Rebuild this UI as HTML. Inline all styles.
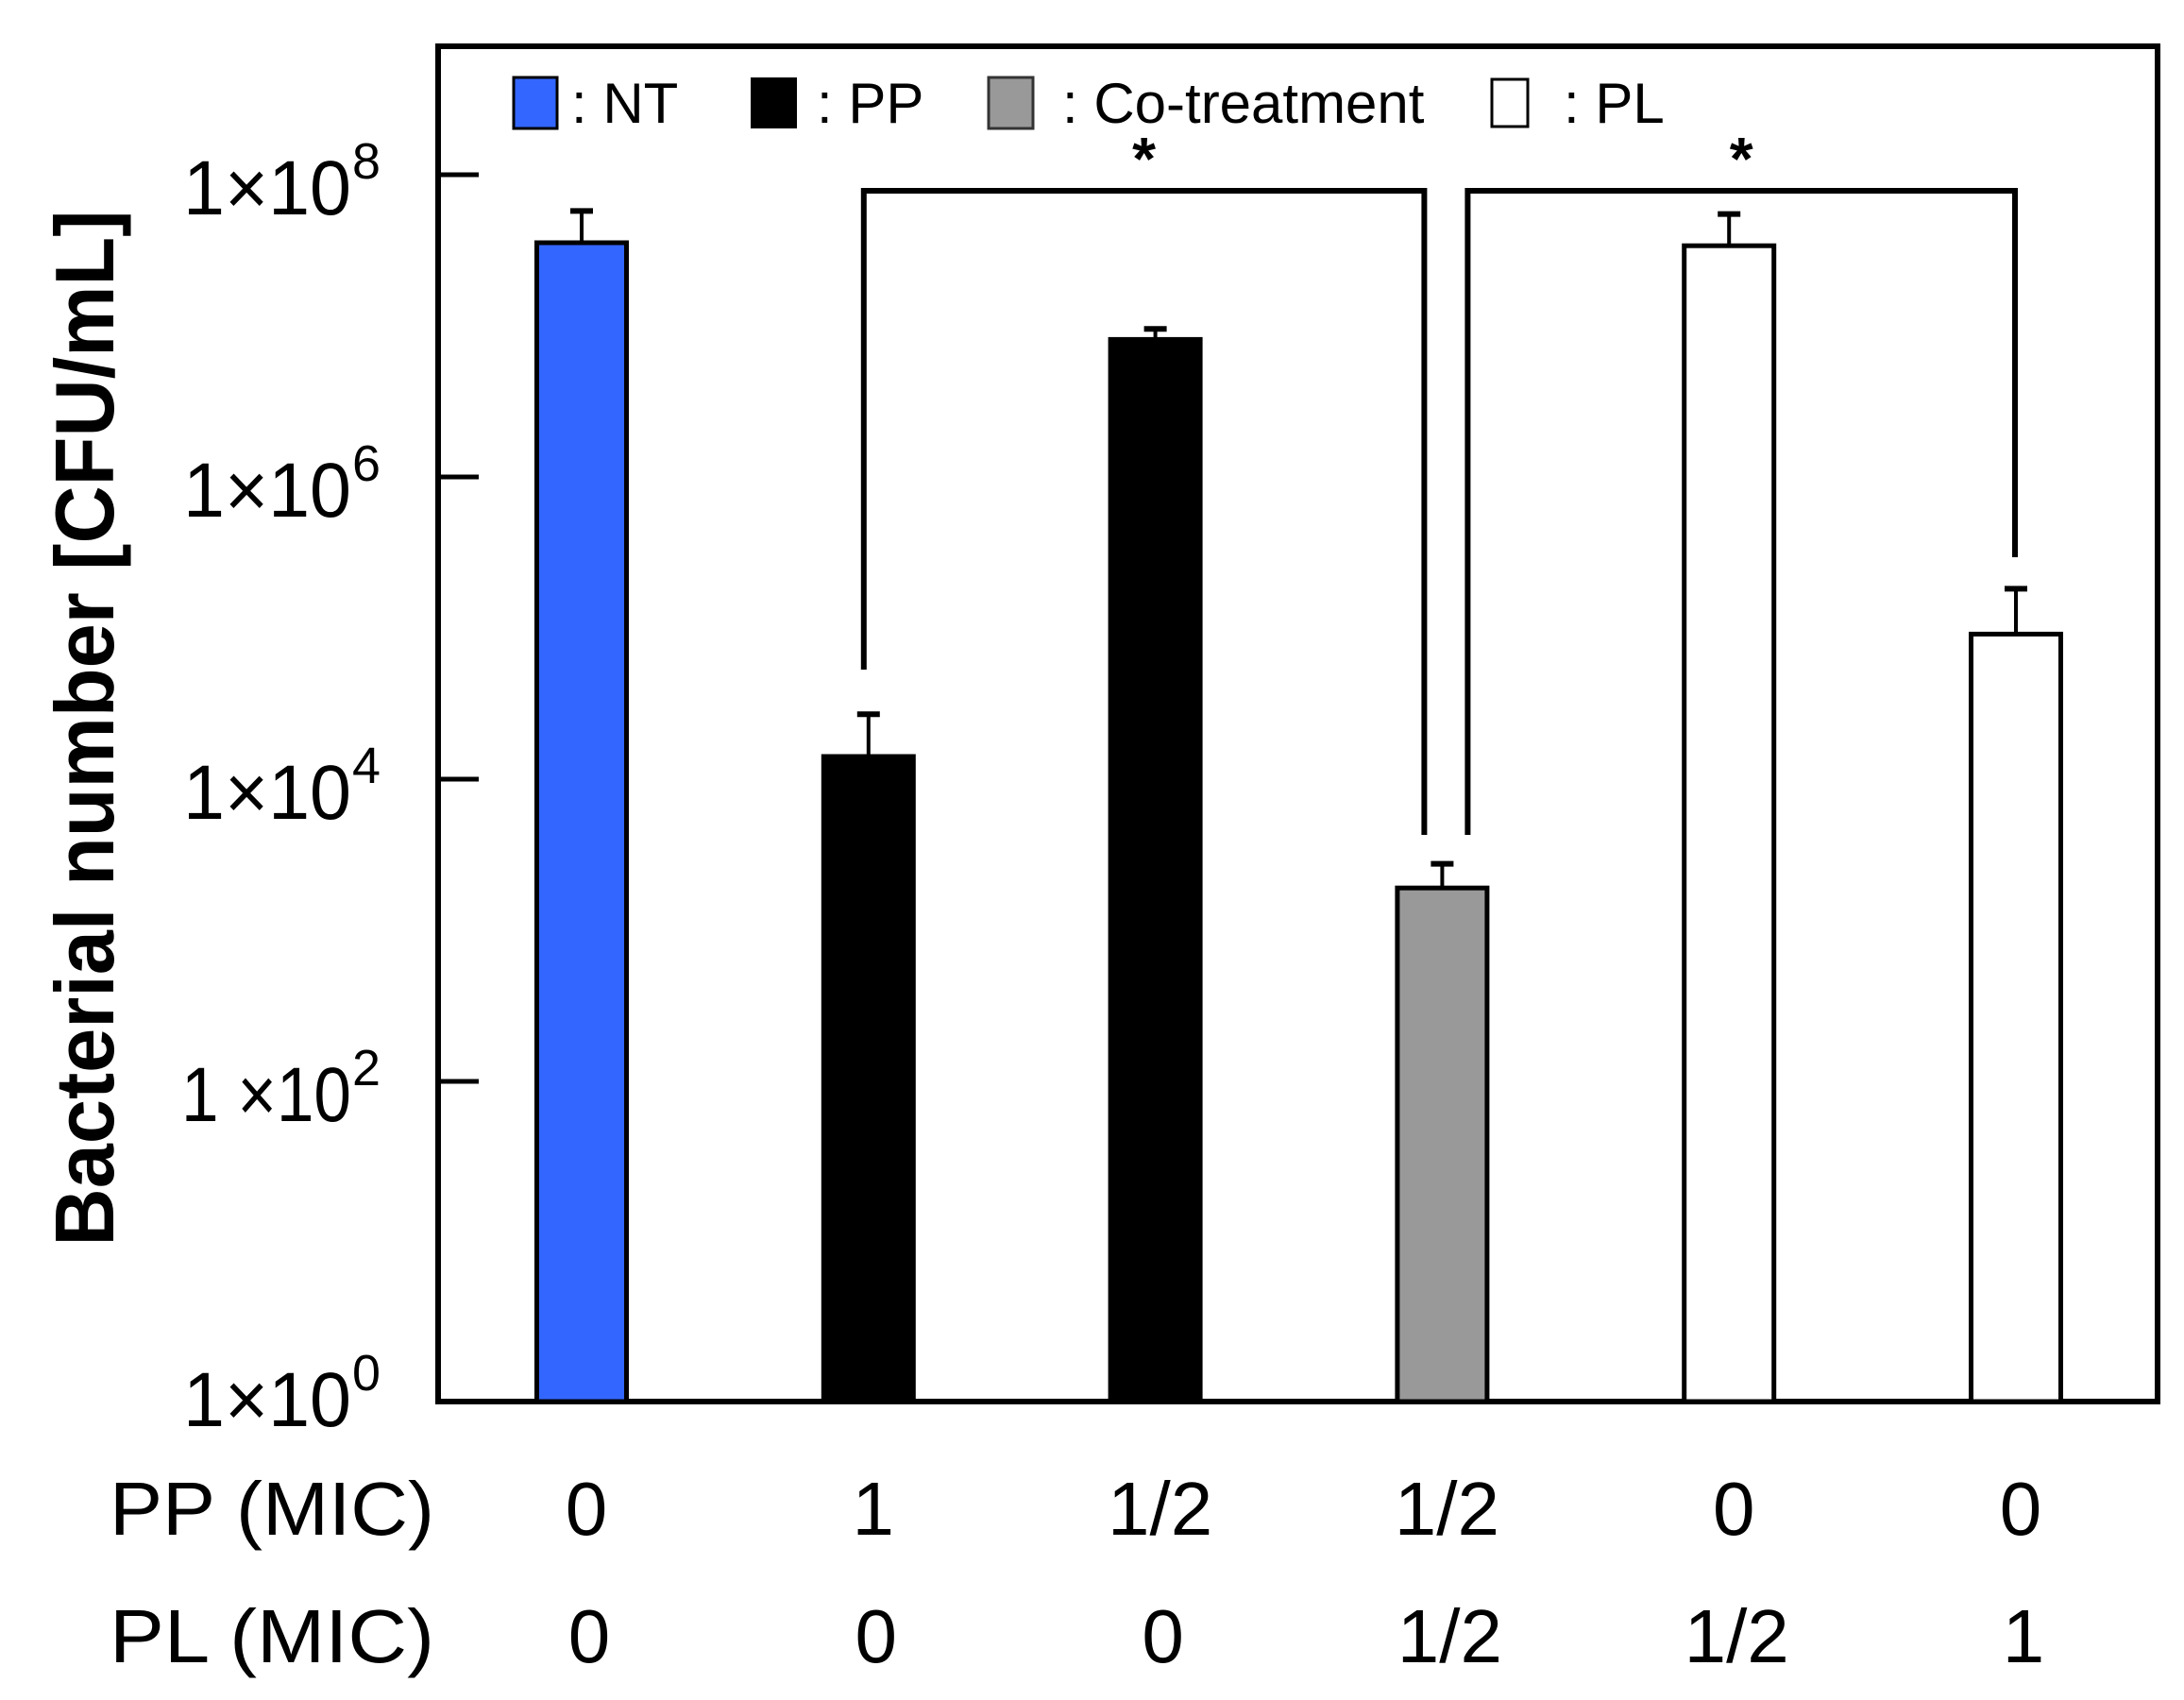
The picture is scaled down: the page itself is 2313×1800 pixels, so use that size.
<!DOCTYPE html>
<html><head><meta charset="utf-8"><style>
html,body{margin:0;padding:0;background:#fff;}
svg{display:block;font-family:"Liberation Sans",Arial,sans-serif;}
</style></head><body>
<svg id="chart" width="2313" height="1800" viewBox="0 0 2313 1800">
<rect x="464" y="49" width="1821" height="1435" fill="none" stroke="#000" stroke-width="6"/>
<g id="yaxis"></g>
<g id="bars"></g>
<g id="brackets"></g>
<g id="xlabels"></g>
<text transform="translate(120,771) rotate(-90)" text-anchor="middle" font-weight="bold" font-size="88" textLength="1097" lengthAdjust="spacingAndGlyphs">Bacterial number [CFU/mL]</text>
<g>
 <rect x="544" y="82" width="46" height="54" fill="#3366ff" stroke="#000" stroke-width="3"/>
 <text x="605" y="130" font-size="60">: NT</text>
 <rect x="795" y="82" width="49" height="54" fill="#000"/>
 <text x="865" y="130" font-size="60">: PP</text>
 <rect x="1047" y="82" width="47" height="54" fill="#999" stroke="#333" stroke-width="3"/>
 <text x="1125" y="130" font-size="60">: Co-treatment</text>
 <rect x="1580" y="84" width="38" height="50" fill="#fff" stroke="#000" stroke-width="3"/>
 <text x="1656" y="130" font-size="60">: PL</text>
</g>
</svg>
<script>
const categories = ["NT","PP 1","PP 1/2","Co 1/2+1/2","PL 1/2","PL 1"];
const logValues = [7.55, 4.15, 6.91, 3.28, 7.53, 4.96];
const logErrTops = [7.76, 4.43, 6.98, 3.44, 7.74, 5.26];
const fills = ["#3366ff","#000","#000","#999","#fff","#fff"];
const ppLabels = ["0","1","1/2","1/2","0","0"];
const plLabels = ["0","0","0","1/2","1/2","1"];
const tickExps = [8,6,4,2,0];
const tickPre = ["1\u00d710","1\u00d710","1\u00d710","1 \u00d710","1\u00d710"];

const NS="http://www.w3.org/2000/svg";
const plotBottom=1484;
function y(logv){return 185+(8-logv)*160;}
function xc(i){return 616+i*303.8;}
const barW=95;
function mk(tag,attrs,parent){const e=document.createElementNS(NS,tag);for(const k in attrs)e.setAttribute(k,attrs[k]);parent.appendChild(e);return e;}

const ya=document.getElementById('yaxis');
tickExps.forEach((e,i)=>{
  const ty=y(e);
  if(e>0){
    const t=mk('line',{x1:464,x2:507,y1:ty,y2:ty,stroke:'#000','stroke-width':5},ya);
    
    
  }
  const ly = e===0 ? 1510 : ty+42;
  const wide = tickPre[i].length>4;
  const tx=mk('text',{x:372,y:ly,'text-anchor':'end','font-size':82,textLength:wide?180:178,lengthAdjust:'spacingAndGlyphs'},ya);
  
  
  tx.textContent=tickPre[i];
  const sup=mk('text',{x:373,y:ly-38,'font-size':54,textLength:30,lengthAdjust:'spacingAndGlyphs'},ya);
  
  
  sup.textContent=String(e);
});

const bg=document.getElementById('bars');
categories.forEach((c,i)=>{
  const top=y(logValues[i]);
  const et=y(logErrTops[i]);
  const cx=xc(i);
  const el=mk('line',{x1:cx,x2:cx,y1:top,y2:et,stroke:'#000','stroke-width':4},bg);
  
  
  const cap=mk('line',{x1:cx-12,x2:cx+12,y1:et,y2:et,stroke:'#000','stroke-width':6},bg);
  
  
  const r=mk('rect',{x:cx-barW/2,y:top,width:barW,height:plotBottom-top,fill:fills[i],stroke:'#000','stroke-width':5},bg);
  
  
});

const br=document.getElementById('brackets');
function bracket(i1,i2,yTop,yl,yr,xl,xr,name){
  const p=mk('polyline',{points:`${xl},${yl} ${xl},${yTop} ${xr},${yTop} ${xr},${yr}`,fill:'none',stroke:'#000','stroke-width':6},br);
  
  
  const s=mk('text',{x:(xl+xr)/2,y:yTop-12,'text-anchor':'middle','font-size':64,'font-weight':'bold'},br);
  
  
  s.textContent='*';
}
bracket(1,3,202,709,884,xc(1)-5,xc(3)-19,'bracket-pp-vs-co');
bracket(3,5,202,884,590,xc(3)+27,xc(5)-1,'bracket-co-vs-pl');

const xl=document.getElementById('xlabels');
function rowLabel(txt,yy,name){
  const t=mk('text',{x:460,y:yy,'text-anchor':'end','font-size':80,textLength:344,lengthAdjust:'spacingAndGlyphs'},xl);
  
  
  t.textContent=txt;
}
rowLabel('PP (MIC)',1625,'pp-row-label');
rowLabel('PL (MIC)',1760,'pl-row-label');
categories.forEach((c,i)=>{
  const a=mk('text',{x:xc(i)+5,y:1625,'text-anchor':'middle','font-size':80},xl);
  
  
  a.textContent=ppLabels[i];
  const b=mk('text',{x:xc(i)+8,y:1760,'text-anchor':'middle','font-size':80},xl);
  
  
  b.textContent=plLabels[i];
});
</script>
</body></html>
